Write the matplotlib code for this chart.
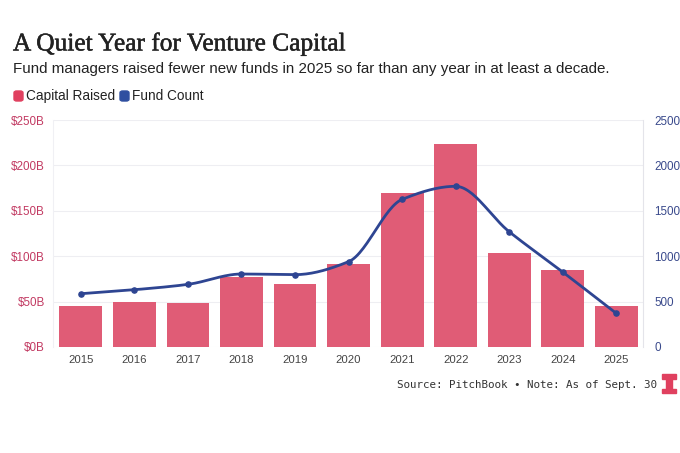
import numpy as np
import matplotlib.pyplot as plt
import matplotlib.patheffects as pe
from matplotlib.patches import FancyBboxPatch, Rectangle

years = [2015, 2016, 2017, 2018, 2019, 2020, 2021, 2022, 2023, 2024, 2025]
capital_raised = [45, 49.5, 49, 77, 69, 91, 170, 224, 103, 85, 45]   # $B
fund_count = [587, 631, 690, 804, 797, 940, 1626, 1770, 1270, 826, 371]

left_ticks = [0, 50, 100, 150, 200, 250]
right_ticks = [0, 500, 1000, 1500, 2000, 2500]

BAR_COLOR = '#e05c76'
LINE_COLOR = '#2e4592'
LEFT_TICK_COLOR = '#c23a62'
RIGHT_TICK_COLOR = '#3a4a8c'
SANS = 'Liberation Sans'


def monotone_curve(x, y, n=30):
    """Curva cúbica monótona (Fritsch-Carlson) para suavizar la línea."""
    x = np.asarray(x, float)
    y = np.asarray(y, float)
    h = np.diff(x)
    d = np.diff(y) / h
    m = np.zeros_like(y)
    m[0], m[-1] = d[0], d[-1]
    for i in range(1, len(y) - 1):
        if d[i - 1] * d[i] <= 0:
            m[i] = 0
        else:
            m[i] = 2 / (1 / d[i - 1] + 1 / d[i])
    xs, ys = [], []
    for i in range(len(h)):
        t = np.linspace(0, 1, n)
        h00 = 2 * t**3 - 3 * t**2 + 1
        h10 = t**3 - 2 * t**2 + t
        h01 = -2 * t**3 + 3 * t**2
        h11 = t**3 - t**2
        xs.append(x[i] + t * h[i])
        ys.append(h00 * y[i] + h10 * h[i] * m[i] + h01 * y[i + 1] + h11 * h[i] * m[i + 1])
    return np.concatenate(xs), np.concatenate(ys)


fig = plt.figure(figsize=(6.8, 4.53), dpi=100)
ax = fig.add_axes([0.078, 0.234, 0.8676, 0.501])
ax2 = ax.twinx()

pos = np.arange(len(years))
ax.bar(pos, capital_raised, width=0.8, color=BAR_COLOR, zorder=2)
ax.set_ylim(0, 250)
ax.set_xlim(-0.52, len(years) - 0.5)
ax.set_yticks(left_ticks)
ax.set_yticklabels([f'${v}B' for v in left_ticks])
ax.set_xticks(pos)
ax.set_xticklabels([str(y) for y in years])
ax.grid(axis='y', color='#eeeef2', linewidth=0.8, zorder=0)
ax.set_axisbelow(True)

cx, cy = monotone_curve(pos, fund_count)
ax2.plot(cx, cy, color=LINE_COLOR, linewidth=2, zorder=3)
ax2.scatter(pos, fund_count, color=LINE_COLOR, s=14, zorder=4)
ax2.set_ylim(0, 2500)
ax2.set_yticks(right_ticks)

for a in (ax, ax2):
    for side in ('top', 'left', 'bottom', 'right'):
        a.spines[side].set_visible(False)
ax2.spines['right'].set_visible(True)
ax2.spines['right'].set_color('#e4e4ea')
ax.spines['left'].set_visible(True)
ax.spines['left'].set_color('#f0f0f4')

ax.tick_params(axis='y', length=0, labelsize=8.4, labelcolor=LEFT_TICK_COLOR, pad=6)
ax.tick_params(axis='x', length=0, labelsize=8.2, labelcolor='#444444', pad=6)
ax2.tick_params(axis='y', length=0, labelsize=8.4, labelcolor=RIGHT_TICK_COLOR, pad=8)
for lbl in ax.get_xticklabels() + ax.get_yticklabels() + ax2.get_yticklabels():
    lbl.set_family(SANS)

title = fig.text(0.019, 0.903, 'A Quiet Year for Venture Capital', fontsize=18.3,
                 family='Liberation Serif', color='#222222', va='center')
title.set_path_effects([pe.withStroke(linewidth=0.35, foreground='#222222')])
fig.text(0.019, 0.848, 'Fund managers raised fewer new funds in 2025 so far than any year in at least a decade.',
         fontsize=10.9, family=SANS, color='#222222', va='center')

# leyenda manual
fig.patches.append(FancyBboxPatch((14 / 680, 1 - 101 / 453), 9 / 680, 10 / 453,
                                  boxstyle='round,pad=0,rounding_size=0.004',
                                  transform=fig.transFigure, color='#e0405f'))
fig.text(26 / 680, 1 - 96 / 453, 'Capital Raised', fontsize=9.8, family=SANS,
         color='#222222', va='center')
fig.patches.append(FancyBboxPatch((120 / 680, 1 - 101 / 453), 9 / 680, 10 / 453,
                                  boxstyle='round,pad=0,rounding_size=0.004',
                                  transform=fig.transFigure, color='#2f4fa0'))
fig.text(132 / 680, 1 - 96 / 453, 'Fund Count', fontsize=9.8, family=SANS,
         color='#222222', va='center')

fig.text(657 / 680, 1 - 385 / 453, 'Source: PitchBook \u2022 Note: As of Sept. 30',
         fontsize=7.8, family='DejaVu Sans Mono', color='#333333', ha='right', va='center')

# logo
logo = '#e0405f'
fig.patches.append(Rectangle((662 / 680, 1 - 379 / 453), 14 / 680, 5 / 453,
                             transform=fig.transFigure, color=logo))
fig.patches.append(Rectangle((666 / 680, 1 - 389 / 453), 6 / 680, 10 / 453,
                             transform=fig.transFigure, color=logo))
fig.patches.append(Rectangle((662 / 680, 1 - 393 / 453), 14 / 680, 4 / 453,
                             transform=fig.transFigure, color=logo))

fig.savefig('out.png', dpi=100, facecolor='white')
